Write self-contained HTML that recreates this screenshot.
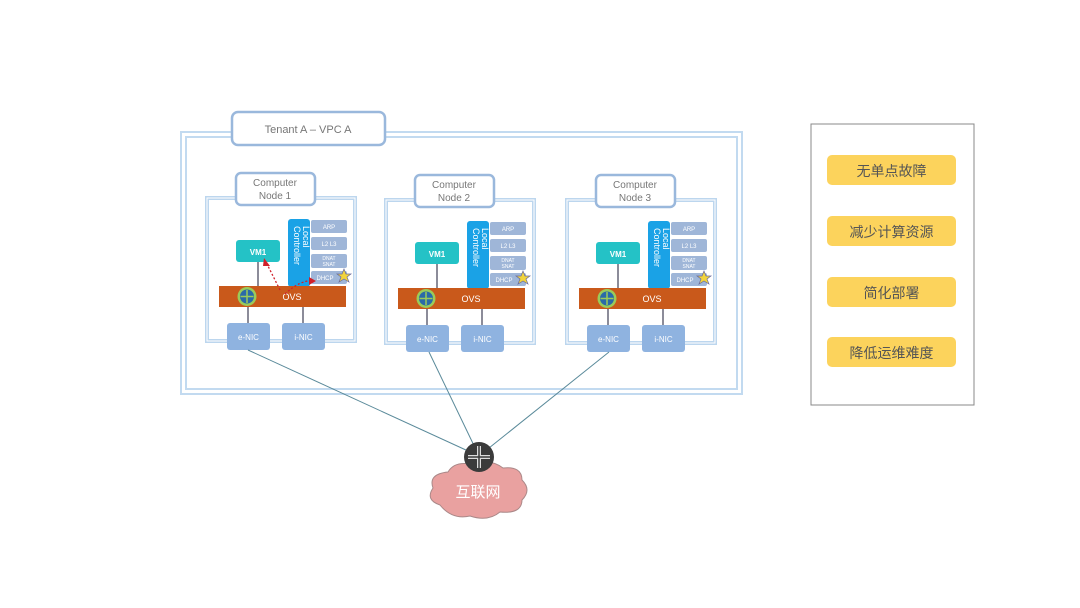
<!DOCTYPE html>
<html><head><meta charset="utf-8"><style>
html,body{margin:0;padding:0;background:#fff;width:1080px;height:608px;overflow:hidden}
svg{display:block}
text{font-family:"Liberation Sans","Noto Sans CJK SC",sans-serif}
</style></head><body>
<svg width="1080" height="608" viewBox="0 0 1080 608" xmlns="http://www.w3.org/2000/svg">
<defs>
<g id="node">
  <rect x="0" y="0" width="148" height="143" fill="#fff" stroke="#bcd6ee" stroke-width="4"/>
  <rect x="0" y="0" width="148" height="143" fill="none" stroke="#fff" stroke-width="1"/>
  <rect x="29" y="-25" width="79" height="32" rx="5" fill="#fff" stroke="#9ab8dc" stroke-width="2.5"/>
  <line x1="51" y1="60" x2="51" y2="92" stroke="#667" stroke-width="1.5"/>
  <line x1="41" y1="108" x2="41" y2="128" stroke="#667" stroke-width="1.5"/>
  <line x1="96" y1="108" x2="96" y2="128" stroke="#667" stroke-width="1.5"/>
  <rect x="29" y="42" width="44" height="22" rx="3" fill="#24c2c6"/>
  <text x="51" y="57" font-size="8" font-weight="bold" fill="#fff" text-anchor="middle">VM1</text>
  <rect x="81" y="21" width="22" height="68" rx="3" fill="#1aa2e6"/>
  <text transform="translate(96,28) rotate(90)" font-size="9" fill="#fff">Local</text>
  <text transform="translate(87,28) rotate(90)" font-size="9" fill="#fff">Controller</text>
  <rect x="104" y="22" width="36" height="13" rx="2" fill="#9fb6d8"/>
  <text x="122" y="31" font-size="6" fill="#fff" text-anchor="middle">ARP</text>
  <rect x="104" y="39" width="36" height="13" rx="2" fill="#9fb6d8"/>
  <text x="122" y="48" font-size="6" fill="#fff" text-anchor="middle">L2 L3</text>
  <rect x="104" y="56" width="36" height="14" rx="2" fill="#9fb6d8"/>
  <text x="122" y="62" font-size="5" fill="#fff" text-anchor="middle">DNAT</text>
  <text x="122" y="68" font-size="5" fill="#fff" text-anchor="middle">SNAT</text>
  <rect x="104" y="73" width="36" height="13" rx="2" fill="#9fb6d8"/>
  <text x="118" y="82" font-size="6" fill="#fff" text-anchor="middle">DHCP</text>
  <polygon points="137,71 139,76 144,76 140,79 142,84 137,81 132,84 134,79 130,76 135,76" fill="#f2d43c" stroke="#6a6a9a" stroke-width="0.7"/>
  <rect x="12" y="88" width="127" height="21" fill="#c9591b"/>
  <text x="85" y="102" font-size="9" fill="#fff" text-anchor="middle">OVS</text>
  <circle cx="40" cy="98.5" r="9.5" fill="#9acb5a"/>
  <circle cx="40" cy="98.5" r="7" fill="#2a6aa8"/>
  <path d="M40 92v13M33.5 98.5h13" stroke="#9acb5a" stroke-width="1.5"/>
  <rect x="20" y="125" width="43" height="27" rx="3" fill="#8fb3e0"/>
  <text x="41.5" y="142" font-size="8" fill="#fff" text-anchor="middle">e-NIC</text>
  <rect x="75" y="125" width="43" height="27" rx="3" fill="#8fb3e0"/>
  <text x="96.5" y="142" font-size="8" fill="#fff" text-anchor="middle">i-NIC</text>
</g>
</defs>
<rect x="181" y="132" width="561" height="262" fill="#fff" stroke="#c2daf0" stroke-width="2"/>
<rect x="186" y="137" width="551" height="252" fill="none" stroke="#c2daf0" stroke-width="2"/>
<use href="#node" x="207" y="198"/>
<use href="#node" x="386" y="200"/>
<use href="#node" x="567" y="200"/>
<text x="275" y="186" font-size="10" fill="#777" text-anchor="middle">Computer</text>
<text x="275" y="199" font-size="10" fill="#777" text-anchor="middle">Node 1</text>
<text x="454" y="188" font-size="10" fill="#777" text-anchor="middle">Computer</text>
<text x="454" y="201" font-size="10" fill="#777" text-anchor="middle">Node 2</text>
<text x="635" y="188" font-size="10" fill="#777" text-anchor="middle">Computer</text>
<text x="635" y="201" font-size="10" fill="#777" text-anchor="middle">Node 3</text>
<path d="M280 290 L266 262" stroke="#d0202a" stroke-width="1.3" stroke-dasharray="2,2" fill="none"/>
<polygon points="264,258 270,266 263,266" fill="#d0202a"/>
<path d="M285 294 Q300 280 312 281" stroke="#d0202a" stroke-width="1.3" stroke-dasharray="2,2" fill="none"/>
<polygon points="316,281 309,277 309,285" fill="#d0202a"/>
<rect x="232" y="112" width="153" height="33" rx="6" fill="#fff" stroke="#9ab8dc" stroke-width="2.5"/>
<text x="308" y="133" font-size="11" fill="#777" text-anchor="middle">Tenant A – VPC A</text>
<g stroke="#5a8a9a" stroke-width="1">
<line x1="248" y1="350" x2="479" y2="456"/>
<line x1="429" y1="352" x2="479" y2="456"/>
<line x1="609" y1="352" x2="479" y2="456"/>
</g>
<g fill="#e9a1a0" stroke="#a88" stroke-width="1">
<path d="M440 505 Q425 500 433 488 Q428 474 448 472 Q455 460 475 465 Q490 458 503 468 Q522 466 522 480 Q532 490 522 500 Q522 514 500 512 Q488 522 470 516 Q452 520 440 505Z"/>
</g>
<text x="478" y="497" font-size="15" fill="#fff" text-anchor="middle">互联网</text>
<circle cx="479" cy="457" r="15" fill="#3b3b3b"/>
<path d="M479 446v22M468 457h22" stroke="#ddd" stroke-width="4"/>
<path d="M479 446v22M468 457h22" stroke="#3b3b3b" stroke-width="1.5"/>
<rect x="811" y="124" width="163" height="281" fill="#fff" stroke="#888" stroke-width="1"/>
<g font-size="14" fill="#555" text-anchor="middle">
<rect x="827" y="155" width="129" height="30" rx="5" fill="#fcd35c"/><text x="891.5" y="176">无单点故障</text>
<rect x="827" y="216" width="129" height="30" rx="5" fill="#fcd35c"/><text x="891.5" y="237">减少计算资源</text>
<rect x="827" y="277" width="129" height="30" rx="5" fill="#fcd35c"/><text x="891.5" y="298">简化部署</text>
<rect x="827" y="337" width="129" height="30" rx="5" fill="#fcd35c"/><text x="891.5" y="358">降低运维难度</text>
</g>
</svg>
</body></html>
